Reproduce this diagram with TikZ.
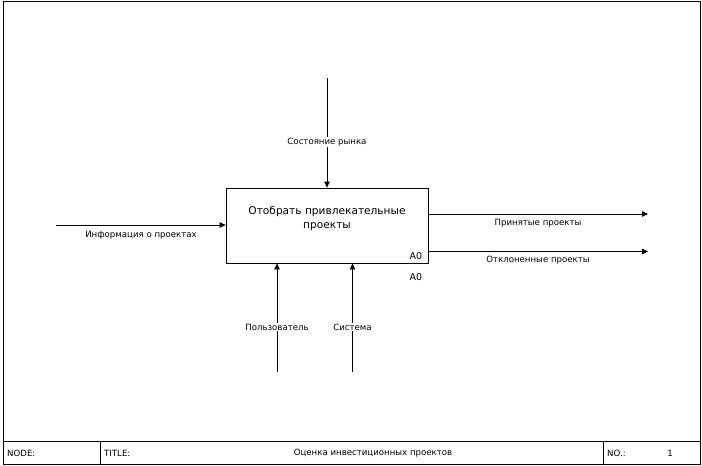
\documentclass[tikz,border=0pt]{standalone}
\usepackage{fontspec}
\setmainfont{DejaVu Sans}
\usetikzlibrary{arrows.meta}
\begin{document}
\begin{tikzpicture}[x=1pt,y=-1pt,
  lbl/.style={font=\fontsize{8.6}{10}\selectfont, inner sep=1pt},
  wlbl/.style={lbl, fill=white},
  arr/.style={-{Triangle[length=6pt,width=5.5pt]}, line width=0.8pt},
  func/.style={draw, line width=0.8pt, minimum width=202pt, minimum height=75pt, inner sep=0pt}]
\useasboundingbox (0,0) rectangle (702,466);
% frame
\draw[line width=1pt] (3.5,1.5) rectangle (700.5,464);
\draw[line width=1pt] (3.5,441) -- (700.5,441);
\draw[line width=1pt] (100.5,441) -- (100.5,464);
\draw[line width=1pt] (603.5,441) -- (603.5,464);
\node[lbl, anchor=west] (node) at (6,453) {NODE:};
\node[lbl, anchor=west] (title) at (103,453) {TITLE:};
\node[lbl] (tname) at (373,453) {Оценка инвестиционных проектов};
\node[lbl, anchor=west] (no) at (606,453) {NO.:};
\node[lbl] (num) at (670,453) {1};
% function box
\node[func] (A) at (327,225.5) {};
\node[font=\fontsize{10.6}{14}\selectfont, align=center] (Atext) at (327,218) {Отобрать привлекательные\\проекты};
\node[font=\fontsize{9.5}{10}\selectfont, inner sep=0pt] (A0in) at (416,256) {A0};
\node[font=\fontsize{9.5}{10}\selectfont, inner sep=0pt] (A0out) at (416,277) {A0};
% coordinates
\coordinate (ctop) at (327,78);
\coordinate (cin) at (56,225);
\coordinate (out1) at (648,214);
\coordinate (out2) at (648,251.5);
\coordinate (m1) at (277,372);
\coordinate (m2) at (352.5,372);
% control
\draw[arr] (ctop) -- (ctop |- A.north);
\node[wlbl] (lctrl) at (327,142) {Состояние рынка};
% input
\draw[arr] (cin) -- (cin -| A.west);
\node[lbl] (lin) at (141,235) {Информация о проектах};
% outputs
\draw[arr] (out1 -| A.east) -- (out1);
\node[lbl] (lout1) at (538,223) {Принятые проекты};
\draw[arr] (out2 -| A.east) -- (out2);
\node[lbl] (lout2) at (538,260.5) {Отклоненные проекты};
% mechanisms
\draw[arr] (m1) -- (m1 |- A.south);
\draw[arr] (m2) -- (m2 |- A.south);
\node[wlbl] (lm1) at (277,327) {Пользователь};
\node[wlbl] (lm2) at (352.5,327) {Система};
\end{tikzpicture}
\end{document}
